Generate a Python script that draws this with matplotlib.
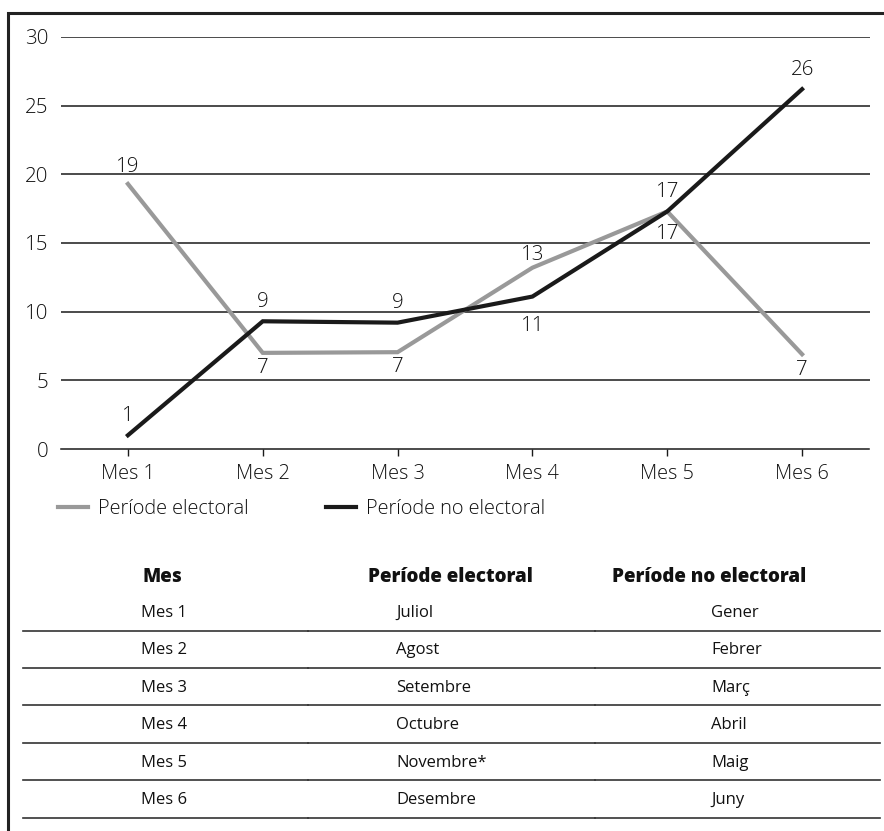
import matplotlib
matplotlib.use("Agg")
import matplotlib.pyplot as plt
from matplotlib.lines import Line2D
from matplotlib import font_manager as fm

# ---------------- data ----------------
categories = ["Mes 1", "Mes 2", "Mes 3", "Mes 4", "Mes 5", "Mes 6"]
electoral = [19.3, 7.0, 7.05, 13.2, 17.3, 6.9]
no_electoral = [1.0, 9.3, 9.2, 11.1, 17.3, 26.2]
series_names = ["Període electoral", "Període no electoral"]
yticks = [0, 5, 10, 15, 20, 25, 30]

table_header = ["Mes", "Període electoral", "Període no electoral"]
table_mes = ["Mes 1", "Mes 2", "Mes 3", "Mes 4", "Mes 5", "Mes 6"]
table_electoral = ["Juliol", "Agost", "Setembre", "Octubre", "Novembre*", "Desembre"]
table_no_electoral = ["Gener", "Febrer", "Març", "Abril", "Maig", "Juny"]

# ---------------- style ----------------
W, H = 884, 831
names = {f.name for f in fm.fontManager.ttflist}
main_font = "Open Sans" if "Open Sans" in names else "DejaVu Sans"
TXT = "#111111"
GRAY = "#999999"
BLACK = "#1a1a1a"

plt.rcParams["font.family"] = [main_font, "DejaVu Sans"]

fig = plt.figure(figsize=(W / 100, H / 100), dpi=100)
fig.patch.set_facecolor("white")


def fx(x):
    return x / W


def fy(y):
    return 1 - y / H


ax = fig.add_axes([fx(60.5), fy(449), fx(869.5) - fx(60.5), fy(37) - fy(449)])
x = list(range(len(categories)))
ax.set_xlim(-0.5, len(categories) - 0.5)
ax.set_ylim(0, 30)

for v in yticks[1:]:
    ax.axhline(v, color="#1a1a1a", lw=1.1, zorder=1)

ax.plot(x, electoral, color=GRAY, lw=3.0, solid_joinstyle="miter", zorder=3)
ax.plot(x, no_electoral, color=BLACK, lw=3.0, solid_joinstyle="miter", zorder=4)

for s in ["top", "right", "left"]:
    ax.spines[s].set_visible(False)
ax.spines["bottom"].set_color("#1a1a1a")
ax.spines["bottom"].set_linewidth(1.1)

ax.set_xticks(x)
ax.set_xticklabels(categories, fontsize=14.3, color=TXT, fontweight="light")
ax.set_yticks(yticks)
ax.set_yticklabels([str(v) for v in yticks], fontsize=14.8, color=TXT, fontweight="light")
ax.tick_params(axis="x", length=5, width=1, color="#1a1a1a", pad=6)
ax.tick_params(axis="y", length=0, pad=8.5)

# data labels: offsets in points (positive above)
el_off = [12, -11, -11, 9, -16, -11]
ne_off = [14, 14, 14, -21, 14, 14]
for i, v in enumerate(electoral):
    ax.annotate(f"{round(v):d}", (i, v), xytext=(0, el_off[i]), textcoords="offset points",
                ha="center", va="center", fontsize=14.8, color=TXT, fontweight="light")
for i, v in enumerate(no_electoral):
    ax.annotate(f"{round(v):d}", (i, v), xytext=(0, ne_off[i]), textcoords="offset points",
                ha="center", va="center", fontsize=14.8, color=TXT, fontweight="light")

# legend
handles = [Line2D([0], [0], color=GRAY, lw=3.0), Line2D([0], [0], color=BLACK, lw=3.0)]
leg = fig.legend(handles, series_names, loc="center left", bbox_to_anchor=(fx(58), fy(509)),
                 ncol=2, frameon=False, handlelength=1.5, handletextpad=0.5,
                 columnspacing=3.9, borderpad=0, borderaxespad=0,
                 prop={"family": [main_font, "DejaVu Sans"], "size": 14.3, "weight": "light"})
for t in leg.get_texts():
    t.set_color(TXT)

# table
hdr_y = 577
hdr_x = [162, 450, 709]
for hx, label in zip(hdr_x, table_header):
    fig.text(fx(hx), fy(hdr_y), label, ha="center", va="center", fontsize=13.5,
             fontweight="heavy", color=TXT)

row_h = 37.4
row0 = 613
line0 = 630.5
for i in range(len(table_mes)):
    yy = row0 + i * row_h
    fig.text(fx(164), fy(yy), table_mes[i], ha="center", va="center", fontsize=12,
             color=TXT)
    fig.text(fx(396), fy(yy), table_electoral[i], ha="left", va="center", fontsize=12,
             color=TXT)
    fig.text(fx(711), fy(yy), table_no_electoral[i], ha="left", va="center", fontsize=12,
             color=TXT)
    ly = line0 + i * row_h
    for x0, x1 in [(23, 308), (308, 595), (595, 880)]:
        fig.add_artist(Line2D([fx(x0), fx(x1)], [fy(ly), fy(ly)], color="#333333", lw=1.2,
                              transform=fig.transFigure))

# outer frame (open at right and bottom)
fig.add_artist(Line2D([fx(8), fx(8), fx(884)], [fy(831), fy(13), fy(13)], color="#222222",
                      lw=2.2, transform=fig.transFigure, solid_joinstyle="miter"))

fig.savefig("out.png", dpi=100, facecolor="white")
